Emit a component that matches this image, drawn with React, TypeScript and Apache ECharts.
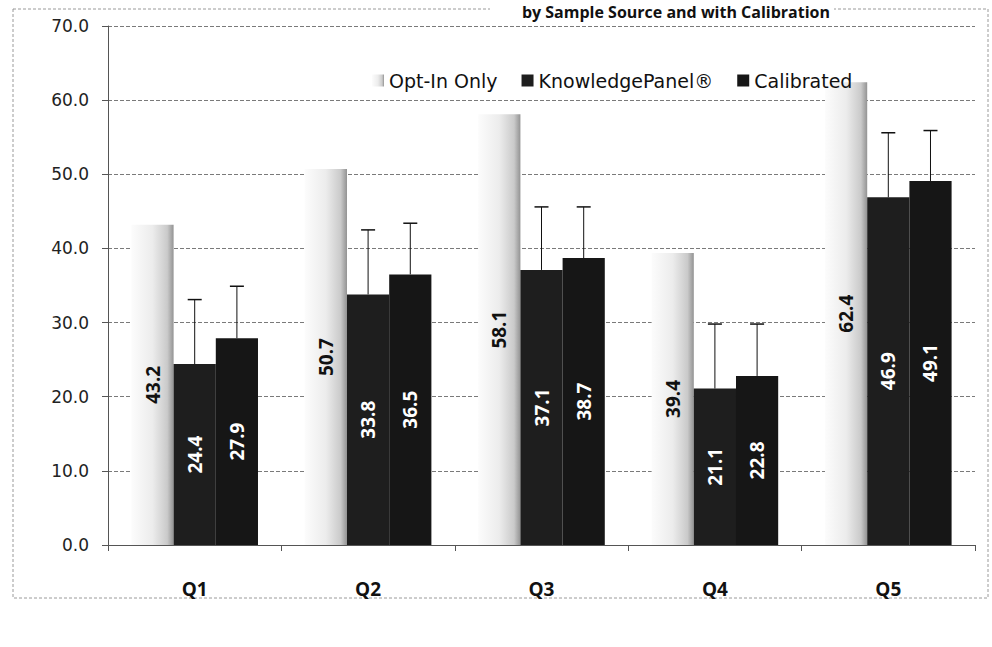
import React, { useEffect, useRef } from "react";
import * as echarts from "echarts";

const categories = ["Q1", "Q2", "Q3", "Q4", "Q5"];
const optInOnly = [43.2, 50.7, 58.1, 39.4, 62.4];
const knowledgePanel = [24.4, 33.8, 37.1, 21.1, 46.9];
const calibrated = [27.9, 36.5, 38.7, 22.8, 49.1];
const knowledgePanelUpper = [33.1, 42.5, 45.6, 29.8, 55.6];
const calibratedUpper = [34.9, 43.4, 45.6, 29.8, 55.9];
const yTicks = { min: 0, max: 70, interval: 10 };
const titleText = "by Sample Source and with Calibration";

const CAT_GAP = 0.27;

function errorSeries(name: string, values: number[], upper: number[], offset: number) {
  return {
    name,
    type: "custom",
    z: 5,
    silent: true,
    encode: { x: 0, y: [1, 2] },
    data: values.map((v, i) => [i, v, upper[i]]),
    renderItem: (params: any, api: any) => {
      const idx = api.value(0);
      const lo = api.coord([idx, api.value(1)]);
      const hi = api.coord([idx, api.value(2)]);
      const band = api.size([1, 0])[0];
      const bw = (band * (1 - CAT_GAP)) / 3;
      const x = lo[0] + offset * bw;
      return {
        type: "group",
        children: [
          { type: "line", shape: { x1: x, y1: lo[1], x2: x, y2: hi[1] }, style: { stroke: "#111", lineWidth: 1 } },
          { type: "line", shape: { x1: x - 7, y1: hi[1], x2: x + 7, y2: hi[1] }, style: { stroke: "#111", lineWidth: 1.5 } },
        ],
      };
    },
  };
}

export default function App() {
  const ref = useRef<HTMLDivElement>(null);
  useEffect(() => {
    if (!ref.current) return;
    const chart = echarts.init(ref.current, null, { renderer: "svg" });
    const labelBase = {
      show: true,
      position: "inside",
      rotate: 90,
      fontFamily: "Open Sans",
      fontWeight: "bold",
      fontSize: 19,
      formatter: (p: any) => Number(p.value).toFixed(1),
    };
    chart.setOption({
      animation: false,
      backgroundColor: "#ffffff",
      graphic: [
        {
          type: "rect",
          shape: { x: 13, y: 9, width: 975, height: 589 },
          style: { fill: "none", stroke: "#9a9a9a", lineWidth: 1, lineDash: [3, 2] },
          z: -1,
        },
        {
          type: "rect",
          shape: { x: 490, y: 3, width: 344, height: 16 },
          style: { fill: "#ffffff" },
          z: 9,
        },
        {
          type: "text",
          x: 830,
          y: 4,
          z: 10,
          style: {
            text: titleText,
            textAlign: "right",
            textVerticalAlign: "top",
            font: "bold 16px 'Open Sans'",
            fill: "#111",
          },
        },
      ],
      legend: {
        data: ["Opt-In Only", "KnowledgePanel®", "Calibrated"],
        top: 66,
        left: 367,
        itemWidth: 12,
        itemHeight: 12,
        itemGap: 24,
        icon: "rect",
        textStyle: { fontFamily: "DejaVu Sans", fontSize: 19, color: "#111" },
      },
      grid: { left: 108, right: 17, top: 26, bottom: 102, containLabel: false },
      xAxis: {
        type: "category",
        data: categories,
        axisLine: { lineStyle: { color: "#555", width: 1 } },
        axisTick: { show: true, length: 6, lineStyle: { color: "#555" } },
        axisLabel: {
          margin: 34,
          fontFamily: "Open Sans",
          fontWeight: "bold",
          fontSize: 19,
          color: "#111",
        },
      },
      yAxis: {
        type: "value",
        min: yTicks.min,
        max: yTicks.max,
        interval: yTicks.interval,
        axisLine: { show: true, lineStyle: { color: "#555", width: 1 } },
        axisTick: { show: true, length: 6, lineStyle: { color: "#555" } },
        axisLabel: {
          margin: 19,
          fontFamily: "DejaVu Sans",
          fontSize: 17,
          color: "#222",
          formatter: (v: number) => v.toFixed(1),
        },
        splitLine: { show: true, lineStyle: { color: "#7a7a7a", width: 1, type: [4, 2] } },
      },
      series: [
        {
          name: "Opt-In Only",
          type: "bar",
          barGap: "0%",
          barCategoryGap: "27%",
          data: optInOnly,
          itemStyle: {
            color: new echarts.graphic.LinearGradient(0, 0, 1, 0, [
              { offset: 0, color: "#fcfcfc" },
              { offset: 0.5, color: "#ececec" },
              { offset: 0.85, color: "#cacaca" },
              { offset: 1, color: "#939393" },
            ]),
          },
          label: { ...labelBase, color: "#111" },
        },
        {
          name: "KnowledgePanel®",
          type: "bar",
          barGap: "0%",
          barCategoryGap: "27%",
          data: knowledgePanel,
          itemStyle: { color: "#1e1e1e" },
          label: { ...labelBase, color: "#ffffff" },
        },
        {
          name: "Calibrated",
          type: "bar",
          barGap: "0%",
          barCategoryGap: "27%",
          data: calibrated,
          itemStyle: { color: "#161616" },
          label: { ...labelBase, color: "#ffffff" },
        },
        errorSeries("KP error", knowledgePanel, knowledgePanelUpper, 0),
        errorSeries("Calibrated error", calibrated, calibratedUpper, 1),
      ],
    });
    return () => chart.dispose();
  }, []);
  return (
    <div
      ref={ref}
      style={{ position: "fixed", left: 0, top: 0, width: 992, height: 647 }}
    />
  );
}
